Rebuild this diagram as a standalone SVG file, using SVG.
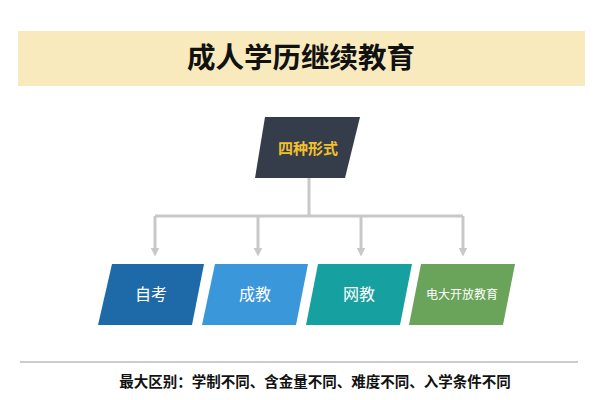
<svg xmlns="http://www.w3.org/2000/svg" width="600" height="400" viewBox="0 0 600 400">
<style>
.t{font-family:"Liberation Sans","Noto Sans CJK SC",sans-serif;text-anchor:middle}
.c{stroke:#c8c8c8;stroke-width:3;fill:none}
.w{fill:#fff;font-size:16px}
</style>
<defs><marker id="a" viewBox="0 0 10 10" refX="5" refY="5" markerWidth="3" markerHeight="3" orient="auto"><path d="M0,0L10,5L0,10z" fill="#c8c8c8"/></marker></defs>
<rect width="600" height="400" fill="#fff"/>
<rect x="18" y="31" width="567" height="55" fill="#f8eabd"/>
<text class="t" x="301" y="68" font-size="28.5" font-weight="bold" fill="#111">成人学历继续教育</text>
<g id="connectors">
<path class="c" d="M309,178V216M155,216H463"/>
<path class="c" marker-end="url(#a)" d="M155,216V252"/>
<path class="c" marker-end="url(#a)" d="M258,216V252"/>
<path class="c" marker-end="url(#a)" d="M361,216V252"/>
<path class="c" marker-end="url(#a)" d="M463,216V252"/>
</g>
<g id="root"><polygon points="265,117 360,117 345,178 255,178" fill="#363d4a"/><text class="t" x="308" y="154" font-size="15" font-weight="bold" fill="#f2c12e">四种形式</text></g>
<g id="n1"><polygon points="112,264 204,264 192,325 98,325" fill="#1e6aa8"/><text class="t w" x="151" y="300">自考</text></g>
<g id="n2"><polygon points="215,264 308,264 296,325 202,325" fill="#3a97d9"/><text class="t w" x="255" y="300">成教</text></g>
<g id="n3"><polygon points="318,264 412,264 400,325 306,325" fill="#17a0a0"/><text class="t w" x="359" y="300">网教</text></g>
<g id="n4"><polygon points="421,264 515,264 503,325 409,325" fill="#6aa35a"/><text class="t" x="462" y="299" font-size="12" fill="#fff">电大开放教育</text></g>
<line x1="20" y1="362" x2="578" y2="362" stroke="#999" stroke-width="1"/>
<text class="t" x="315" y="387" font-size="14.5" font-weight="bold" fill="#111">最大区别：学制不同、含金量不同、难度不同、入学条件不同</text>
</svg>
